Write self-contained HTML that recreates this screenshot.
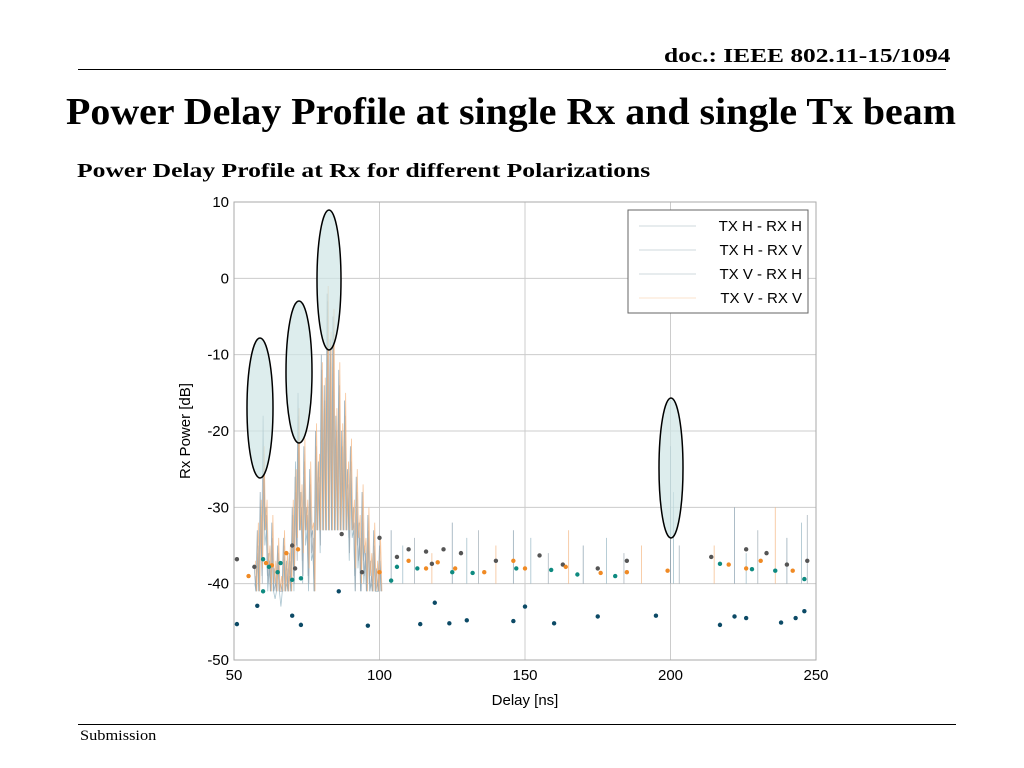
<!DOCTYPE html>
<html><head><meta charset="utf-8"><style>
body{margin:0;width:1024px;height:768px;background:#fff;overflow:hidden;position:relative;font-family:"Liberation Serif",serif}
.abs{position:absolute;transform-origin:0 0;white-space:nowrap}
</style></head><body>
<div class="abs" style="left:664px;top:45px;font-size:20px;font-weight:bold;transform:scaleX(1.27)">doc.: IEEE 802.11-15/1094</div>
<div class="abs" style="left:78px;top:69px;width:868px;height:1px;background:#000"></div>
<div class="abs" style="left:66px;top:90px;font-size:38px;font-weight:bold;transform:scaleX(1.05)">Power Delay Profile at single Rx and single Tx beam</div>
<div class="abs" style="left:77px;top:160px;font-size:20px;font-weight:bold;transform:scaleX(1.28)">Power Delay Profile at Rx for different Polarizations</div>
<div class="abs" style="left:78px;top:724px;width:878px;height:1px;background:#000"></div>
<div class="abs" style="left:80px;top:728px;font-size:15px;transform:scaleX(1.09)">Submission</div>
<svg class="abs" style="left:0;top:0" width="1024" height="768" id="chart"></svg>
<script>
const delays=[57,58,59,60,61,62,63,64,65,66,67,68,69,70,71,72,73,74,75,76,77,78,79,80,81,82,83,84,85,86,87,88,89,90,91,92,93,94,95,96,97,98,99,100];
const seriesHH=[-38,-33,-28,-18,-30,-36,-32,-38,-35,-40,-34,-37,-36,-30,-26,-15,-28,-22,-30,-25,-33,-20,-24,-10,-14,-2,-8,-5,-18,-12,-20,-16,-25,-22,-30,-26,-32,-28,-35,-31,-37,-33,-38,-35];
const seriesHV=[-40,-36,-30,-26,-33,-38,-35,-42,-37,-43,-36,-40,-39,-33,-24,-20,-31,-26,-33,-28,-36,-24,-27,-14,-17,-4,-11,-9,-21,-15,-23,-19,-28,-25,-33,-29,-35,-31,-37,-34,-40,-36,-41,-38];
const seriesVH=[-39,-35,-31,-23,-31,-37,-34,-40,-36,-41,-35,-38,-37,-31,-28,-18,-30,-24,-31,-27,-34,-22,-26,-12,-16,-3,-10,-7,-20,-14,-22,-18,-27,-24,-32,-28,-34,-30,-36,-33,-39,-35,-40,-37];
const seriesVV=[-37,-32,-29,-22,-29,-35,-31,-37,-34,-39,-33,-36,-35,-29,-25,-17,-27,-21,-29,-24,-32,-19,-23,-11,-13,-1,-7,-4,-17,-11,-19,-15,-24,-21,-29,-25,-31,-27,-34,-30,-36,-32,-37,-34];
const spikeDelays=[104,108,112,118,125,130,134,140,146,152,158,165,170,178,184,190,200,201,203,215,222,226,230,236,240,245,247];
const spikePeaks=[-33,-35,-34,-36,-32,-34,-33,-35,-33,-34,-36,-33,-35,-34,-36,-35,-22,-28,-35,-35,-30,-36,-33,-30,-34,-32,-31];
const dotsGray=[[51,-36.8],[57,-37.8],[70,-35],[71,-38],[87,-33.5],[94,-38.5],[100,-34],[106,-36.5],[110,-35.5],[116,-35.8],[118,-37.4],[122,-35.5],[128,-36],[140,-37],[155,-36.3],[163,-37.5],[175,-38],[185,-37],[214,-36.5],[226,-35.5],[233,-36],[240,-37.5],[247,-37]];
const dotsOrange=[[55,-39],[61,-37.3],[63,-37.6],[68,-36],[72,-35.5],[100,-38.5],[110,-37],[116,-38],[120,-37.2],[126,-38],[136,-38.5],[146,-37],[150,-38],[164,-37.8],[176,-38.6],[185,-38.5],[199,-38.3],[220,-37.5],[226,-38],[231,-37],[242,-38.3]];
const dotsTeal=[[60,-36.8],[62,-37.8],[65,-38.5],[66,-37.3],[70,-39.5],[73,-39.3],[60,-41],[106,-37.8],[104,-39.6],[113,-38],[125,-38.5],[132,-38.6],[147,-38],[159,-38.2],[168,-38.8],[181,-39],[217,-37.4],[228,-38.1],[236,-38.3],[246,-39.4]];
const dotsBlue=[[51,-45.3],[58,-42.9],[70,-44.2],[73,-45.4],[86,-41],[96,-45.5],[114,-45.3],[119,-42.5],[124,-45.2],[130,-44.8],[146,-44.9],[150,-43],[160,-45.2],[175,-44.3],[195,-44.2],[217,-45.4],[222,-44.3],[226,-44.5],[238,-45.1],[243,-44.5],[246,-43.6]];
const xTicks=[50,100,150,200,250];
const yTicks=[10,0,-10,-20,-30,-40,-50];
const legendLabels=["TX H - RX H","TX H - RX V","TX V - RX H","TX V - RX V"];

const X0=234,X1=816,Y0=202,Y1=660;
const sx=d=>X0+(d-50)/200*(X1-X0);
const sy=v=>Y0+(10-v)/60*(Y1-Y0);
const svg=document.getElementById('chart');
const NS='http://www.w3.org/2000/svg';
function mk(tag,attrs,parent){const e=document.createElementNS(NS,tag);for(const k in attrs)e.setAttribute(k,attrs[k]);(parent||svg).appendChild(e);return e;}
const F='"Liberation Sans",sans-serif';
xTicks.forEach(t=>{
  const g=mk('line',{x1:sx(t),x2:sx(t),y1:Y0,y2:Y1,stroke:'#ccc','stroke-width':1});
  
  
  const l=mk('text',{x:sx(t),y:Y1+20,'text-anchor':'middle','font-size':15,'font-family':F});
  l.textContent=t;
  
  
});
yTicks.forEach(t=>{
  const g=mk('line',{x1:X0,x2:X1,y1:sy(t),y2:sy(t),stroke:'#ccc','stroke-width':1});
  
  
  const l=mk('text',{x:X0-5,y:sy(t)+5,'text-anchor':'end','font-size':15,'font-family':F});
  l.textContent=t;
  
  
});
const fr=mk('rect',{x:X0,y:Y0,width:X1-X0,height:Y1-Y0,fill:'none',stroke:'#aaa','stroke-width':1});


const xt=mk('text',{x:(X0+X1)/2,y:705,'text-anchor':'middle','font-size':15,'font-family':F});
xt.textContent='Delay [ns]';


const yt=mk('text',{x:190,y:431,'text-anchor':'middle','font-size':15,'font-family':F,transform:'rotate(-90 190 431)'});
yt.textContent='Rx Power [dB]';



const cols=['#7f98a8','#8fb2c0','#98a6b0','#f4b27a'];
[seriesHH,seriesHV,seriesVH,seriesVV].forEach((s,i)=>{
  const pts=[];
  delays.forEach((d,j)=>{
    pts.push((sx(d)+i*0.35)+','+sy(s[j]));
    pts.push((sx(d)+1.4+i*0.35)+','+sy(Math.max(Math.min(s[j]-9,-33),-41)));
  });
  const p=mk('polyline',{points:pts.join(' '),fill:'none',stroke:cols[i],'stroke-width':0.8,opacity:0.75});
  
  
});
spikeDelays.forEach((d,j)=>{
  const l=mk('line',{x1:sx(d),x2:sx(d),y1:sy(-40),y2:sy(spikePeaks[j]),stroke:cols[j%4],'stroke-width':0.8,opacity:0.8});
  
  
});
[[dotsGray,'#555'],[dotsOrange,'#f08a24'],[dotsTeal,'#0e8a80'],[dotsBlue,'#0c4a66']].forEach(([arr,c])=>{
  arr.forEach(([d,v])=>{
    const e=mk('circle',{cx:sx(d),cy:sy(v),r:2.2,fill:c});
    
    
  });
});
[[260,408,13,70],[299,372,13,71],[329,280,12,70],[671,468,12,70]].forEach(([cx,cy,rx,ry])=>{
  const e=mk('ellipse',{cx,cy,rx,ry,fill:'#cfe6e6','fill-opacity':0.7,stroke:'#000','stroke-width':1.5});
  
  
});
const lg=mk('g',{});


mk('rect',{x:628,y:210,width:180,height:103,fill:'#fff',stroke:'#666','stroke-width':1},lg);
legendLabels.forEach((t,i)=>{
  const y=226+i*24;
  mk('line',{x1:639,x2:696,y1:y,y2:y,stroke:i==3?'#fbe3cc':'#cfd8dc','stroke-width':1},lg);
  const tx=mk('text',{x:802,y:y+5,'text-anchor':'end','font-size':15,'font-family':F},lg);
  tx.textContent=t;
  
  
});
</script>
</body></html>
